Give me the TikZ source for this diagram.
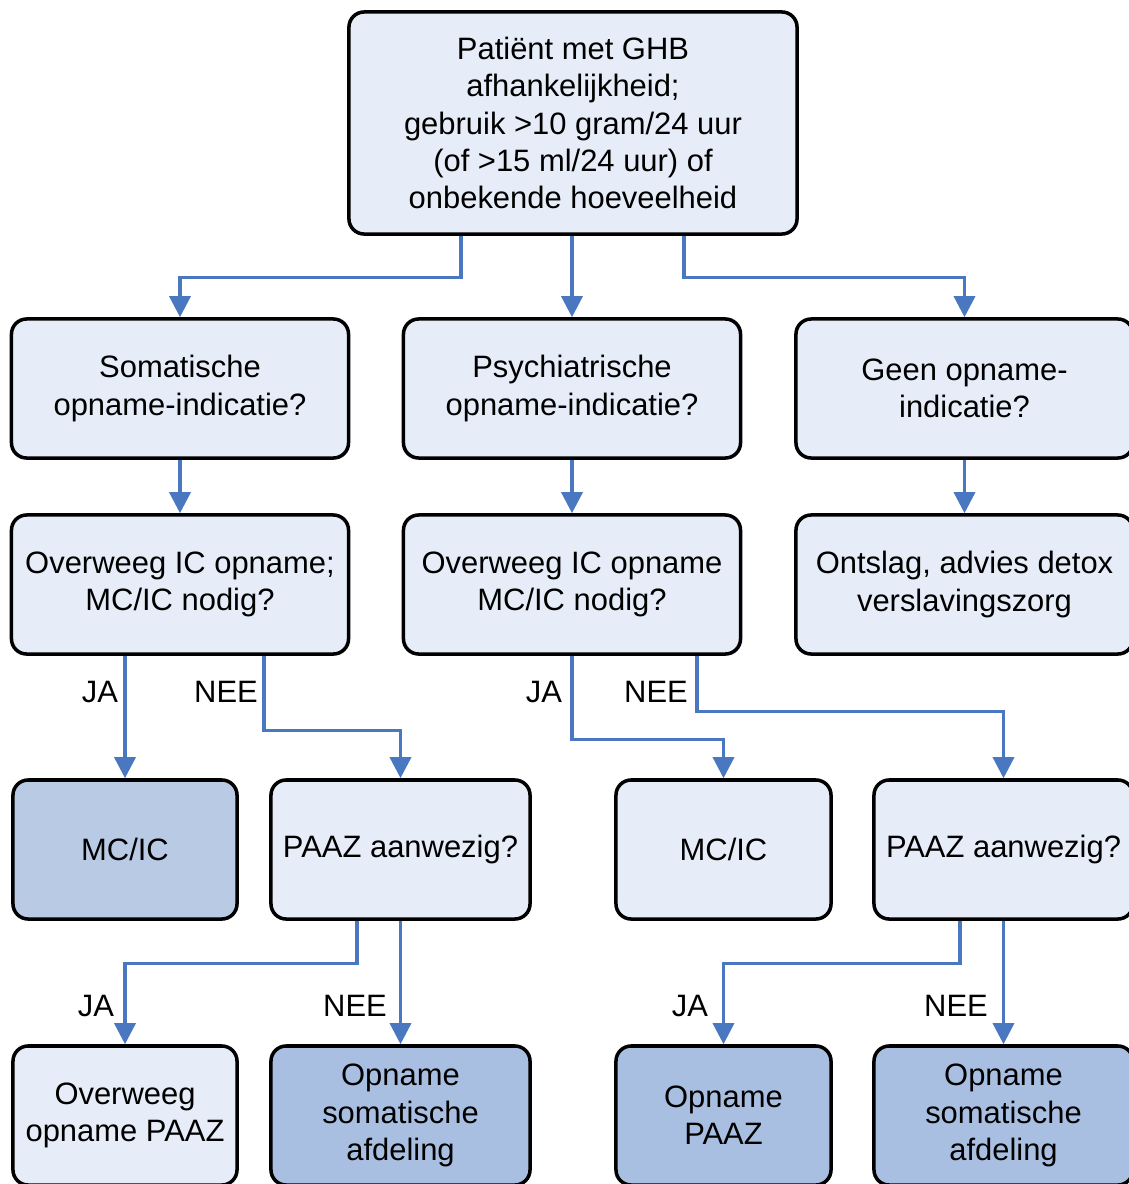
\documentclass[tikz,border=0pt]{standalone}
\usepackage{fontspec}
\setmainfont{Liberation Sans}
\usetikzlibrary{arrows.meta}

\definecolor{boxlight}{HTML}{E6EDF8}
\definecolor{boxmid}{HTML}{B9CAE4}
\definecolor{boxdark}{HTML}{A9BFE1}
\definecolor{arrowblue}{HTML}{4A78C0}

\begin{document}
\begin{tikzpicture}[x=0.025cm, y=-0.025cm,
	box/.style={draw=black, line width=2.5pt, rounded corners=0.38cm, fill=boxlight,
		align=center, minimum height=3.475cm, inner sep=0pt,
		font=\fontsize{22}{26.5}\selectfont},
	arr/.style={draw=arrowblue, line width=2.4pt, -{Triangle[length=15pt,width=15pt]}},
	lbl/.style={font=\fontsize{22}{26.5}\selectfont}]
	\useasboundingbox (0,0) rectangle (1129,1184);

	%%% Blokken

	% Start
	\node[box, minimum width=11.2cm, minimum height=5.55cm] (start) at (573,123)
		{Patiënt met GHB\\afhankelijkheid;\\gebruik >10 gram/24 uur\\(of >15 ml/24 uur) of\\onbekende hoeveelheid};

	% Tweede rij
	\node[box, minimum width=8.425cm] (som) at (180,388.5) {Somatische\\opname-indicatie?};
	\node[box, minimum width=8.425cm] (psy) at (572,388.5) {Psychiatrische\\opname-indicatie?};
	\node[box, minimum width=8.425cm] (geen) at (964.5,388.5) {Geen opname-\\indicatie?};

	% Derde rij
	\node[box, minimum width=8.425cm] (icsom) at (180,584.5) {Overweeg IC opname;\\MC/IC nodig?};
	\node[box, minimum width=8.425cm] (icpsy) at (572,584.5) {Overweeg IC opname\\MC/IC nodig?};
	\node[box, minimum width=8.425cm] (ontslag) at (964.5,584.5) {Ontslag, advies detox\\verslavingszorg};

	% Vierde rij
	\node[box, minimum width=5.6cm, fill=boxmid] (mcsom) at (125,849.5) {MC/IC};
	\node[box, minimum width=6.475cm] (paazsom) at (400.5,849.5) {PAAZ aanwezig?};
	\node[box, minimum width=5.375cm] (mcpsy) at (723.5,849.5) {MC/IC};
	\node[box, minimum width=6.475cm] (paazpsy) at (1003.5,849.5) {PAAZ aanwezig?};

	% Vijfde rij
	\node[box, minimum width=5.6cm] (ovpaaz) at (125,1115.5) {Overweeg\\opname PAAZ};
	\node[box, minimum width=6.475cm, fill=boxdark] (afdsom) at (400.5,1115.5) {Opname\\somatische\\afdeling};
	\node[box, minimum width=5.375cm, fill=boxdark] (oppaaz) at (723.5,1115.5) {Opname\\PAAZ};
	\node[box, minimum width=6.475cm, fill=boxdark] (afdpsy) at (1003.5,1115.5) {Opname\\somatische\\afdeling};

	%%% Pijlen

	\draw[arr] (start.south) ++(-112,0) -- ++(0,42) -| (som.north);
	\draw[arr] (start.south -| psy.north) -- (psy.north);
	\draw[arr] (start.south) ++(111,0) -- ++(0,42) -| (geen.north);

	\draw[arr] (som) -- (icsom);
	\draw[arr] (psy) -- (icpsy);
	\draw[arr] (geen) -- (ontslag);

	\draw[arr] (icsom.south -| mcsom.north) -- (mcsom.north);
	\draw[arr] (icsom.south) ++(84,0) -- ++(0,75) -| (paazsom.north);
	\draw[arr] (icpsy.south) -- ++(0,84) -| (mcpsy.north);
	\draw[arr] (icpsy.south) ++(125,0) -- ++(0,56) -| (paazpsy.north);

	\draw[arr] (paazsom.south) ++(-43.5,0) -- ++(0,43) -| (ovpaaz.north);
	\draw[arr] (paazsom) -- (afdsom);
	\draw[arr] (paazpsy.south) ++(-43.5,0) -- ++(0,43) -| (oppaaz.north);
	\draw[arr] (paazpsy) -- (afdpsy);

	%%% Labels

	\node[lbl] (jasom) at (100,692) {JA};
	\node[lbl] (neesom) at (226,692) {NEE};
	\node[lbl] (japsy) at (544,692) {JA};
	\node[lbl] (neepsy) at (656,692) {NEE};
	\node[lbl] (jaovp) at (96,1006) {JA};
	\node[lbl] (neeafd) at (355,1006) {NEE};
	\node[lbl] (jaopp) at (690,1006) {JA};
	\node[lbl] (neeafdp) at (956,1006) {NEE};
\end{tikzpicture}
\end{document}
